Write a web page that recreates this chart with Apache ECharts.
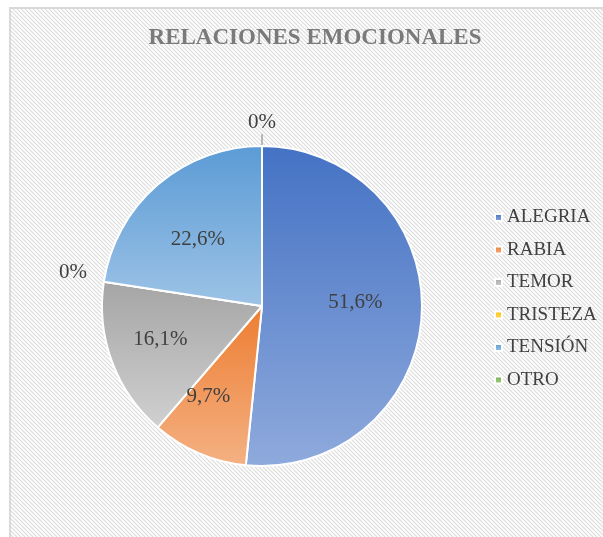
<!DOCTYPE html>
<html>
<head>
<meta charset="utf-8">
<script src="https://cdn.jsdelivr.net/npm/echarts@6/dist/echarts.min.js"></script>
<style>
  html, body { margin: 0; padding: 0; background: #fff; }
  #main { width: 603px; height: 537px; }
</style>
</head>
<body>
<div id="main"></div>
<script>
var categories = ['ALEGRIA', 'RABIA', 'TEMOR', 'TRISTEZA', 'TENSIÓN', 'OTRO'];
var counts = [16, 3, 5, 0, 7, 0];
var topColors = ['#4472C4', '#ED7D31', '#A5A5A5', '#FFC000', '#5B9BD5', '#70AD47'];
var bottomColors = ['#8FAADC', '#F4B183', '#D0D0D0', '#FFD966', '#9DC3E6', '#A9D18E'];

var cx = 262, cy = 306;

// hatch pattern like the excel chart area
var tile = document.createElement('canvas');
tile.width = 4; tile.height = 4;
var g = tile.getContext('2d');
g.fillStyle = '#ffffff';
g.fillRect(0, 0, 4, 4);
g.strokeStyle = '#dcdcdc';
g.lineWidth = 1.2;
g.beginPath();
g.moveTo(-1, -1); g.lineTo(5, 5);
g.moveTo(-1, 3); g.lineTo(1, 5);
g.moveTo(3, -1); g.lineTo(5, 1);
g.stroke();

var total = counts.reduce(function (a, b) { return a + b; }, 0);

// small nudges so labels sit where excel's "best fit" put them
var nudge = {
    'ALEGRIA': [-2, -8],
    'RABIA': [-16, 3],
    'TEMOR': [-12, 0],
    'TENSIÓN': [-2, 6]
};

var data = categories.map(function (name, i) {
    var item = {
        name: name,
        value: counts[i],
        itemStyle: {
            color: {
                type: 'linear', x: 0, y: 0, x2: 0, y2: 1,
                colorStops: [
                    {offset: 0, color: topColors[i]},
                    {offset: 1, color: bottomColors[i]}
                ]
            }
        }
    };
    if (counts[i] === 0) {
        item.label = {position: 'outside'};
        item.labelLine = {show: name === 'OTRO', length: 12, length2: 0};
    }
    return item;
});

var myChart = echarts.init(document.getElementById('main'));
myChart.setOption({
    backgroundColor: '#ffffff',
    graphic: [{
        type: 'rect',
        z: -10,
        silent: true,
        shape: {x: 10, y: 8, width: 620, height: 560},
        style: {
            fill: {image: tile, repeat: 'repeat'},
            stroke: '#d9d9d9',
            lineWidth: 2
        }
    }],
    title: {
        text: 'RELACIONES EMOCIONALES',
        left: 310,
        top: 22,
        textAlign: 'center',
        textStyle: {
            fontFamily: 'Liberation Serif',
            fontSize: 23,
            fontWeight: 'bold',
            color: '#7a7a7a'
        }
    },
    legend: {
        orient: 'vertical',
        left: 489,
        top: 203,
        icon: 'rect',
        itemWidth: 7,
        itemHeight: 7,
        itemGap: 13.5,
        data: categories,
        textStyle: {
            fontFamily: 'Liberation Serif',
            fontSize: 19,
            color: '#404040'
        }
    },
    series: [{
        type: 'pie',
        center: [cx, cy],
        radius: 160,
        startAngle: 90,
        clockwise: true,
        avoidLabelOverlap: false,
        animation: false,
        itemStyle: {borderColor: '#ffffff', borderWidth: 2},
        label: {
            position: 'inside',
            fontFamily: 'Liberation Serif',
            fontSize: 21,
            color: '#404040',
            formatter: function (p) {
                if (p.value === 0) return '0%';
                return (p.value / total * 100).toFixed(1).replace('.', ',') + '%';
            }
        },
        labelLine: {lineStyle: {color: '#a6a6a6', width: 1.5}},
        labelLayout: function (p) {
            var name = categories[p.dataIndex];
            var lx = p.labelRect.x + p.labelRect.width / 2;
            var ly = p.labelRect.y + p.labelRect.height / 2;
            if (name === 'OTRO') {
                return {dx: cx - lx, dy: -12};
            }
            if (counts[p.dataIndex] === 0) {
                return {dy: -7};
            }
            var k = 0.15;
            var n = nudge[name] || [0, 0];
            return {dx: (lx - cx) * k + n[0], dy: (ly - cy) * k + n[1]};
        },
        data: data
    }]
});
</script>
</body>
</html>
